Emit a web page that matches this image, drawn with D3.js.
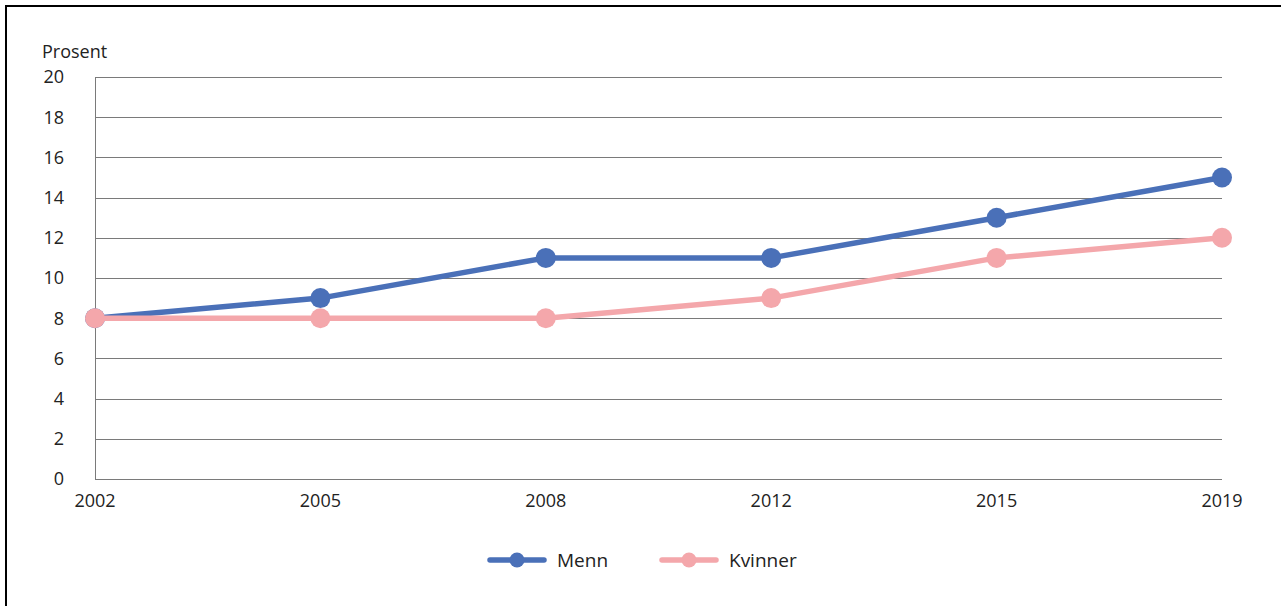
<!DOCTYPE html>
<html>
<head>
<meta charset="utf-8">
<script src="https://cdn.jsdelivr.net/npm/d3@7"></script>
<style>
  body { margin: 0; background: #fff; }
  svg { display: block; font-family: "Open Sans", "Noto Sans", sans-serif; }
</style>
</head>
<body>
<div id="chart"></div>
<script>
// Data
const years = ["2002", "2005", "2008", "2012", "2015", "2019"];
const menn = [8, 9, 11, 11, 13, 15];
const kvinner = [8, 8, 8, 9, 11, 12];
const yTicks = [0, 2, 4, 6, 8, 10, 12, 14, 16, 18, 20];
const seriesNames = ["Menn", "Kvinner"];
const colors = ["#4a70b8", "#f4a7ab"];

const width = 1281, height = 606;
const margin = { left: 95, right: 59, top: 77, bottom: 127 };

const svg = d3.select("#chart").append("svg")
  .attr("width", width)
  .attr("height", height);

// frame (top + left visible)
svg.append("rect")
  .attr("x", 6).attr("y", 6)
  .attr("width", width + 10).attr("height", height + 10)
  .attr("fill", "none")
  .attr("stroke", "#000")
  .attr("stroke-width", 2);

const x = d3.scalePoint()
  .domain(years)
  .range([margin.left, width - margin.right]);

const y = d3.scaleLinear()
  .domain([0, 20])
  .range([height - margin.bottom, margin.top]);

// gridlines
svg.append("g")
  .selectAll("line")
  .data(yTicks)
  .join("line")
  .attr("x1", margin.left)
  .attr("x2", width - margin.right)
  .attr("y1", d => Math.round(y(d)) + 0.5)
  .attr("y2", d => Math.round(y(d)) + 0.5)
  .attr("stroke", "#7a7a7a")
  .attr("stroke-width", 1);

// left axis line
svg.append("line")
  .attr("x1", margin.left + 0.5).attr("x2", margin.left + 0.5)
  .attr("y1", Math.round(y(20)) + 0.5).attr("y2", Math.round(y(0)) + 0.5)
  .attr("stroke", "#7a7a7a");

// y tick labels
svg.append("g")
  .selectAll("text")
  .data(yTicks)
  .join("text")
  .attr("x", 64)
  .attr("y", d => y(d))
  .attr("dy", "0.35em")
  .attr("text-anchor", "end")
  .attr("font-size", 18)
  .attr("fill", "#222")
  .text(d => d);

svg.append("text")
  .attr("x", 42).attr("y", 58)
  .attr("font-size", 18)
  .attr("fill", "#222")
  .text("Prosent");

// x tick labels
svg.append("g")
  .selectAll("text")
  .data(years)
  .join("text")
  .attr("x", d => x(d))
  .attr("y", 507)
  .attr("text-anchor", "middle")
  .attr("font-size", 18)
  .attr("fill", "#222")
  .text(d => d);

// lines
const line = d3.line()
  .x((d, i) => x(years[i]))
  .y(d => y(d));

const series = [menn, kvinner];

[0, 1].forEach(k => {
  const g = svg.append("g");
  g.append("path")
    .datum(series[k])
    .attr("d", line)
    .attr("fill", "none")
    .attr("stroke", colors[k])
    .attr("stroke-width", 5.5)
    .attr("stroke-linejoin", "round");
  g.selectAll("circle")
    .data(series[k])
    .join("circle")
    .attr("cx", (d, i) => x(years[i]))
    .attr("cy", d => y(d))
    .attr("r", 10)
    .attr("fill", colors[k]);
});

// legend
const legendX = [488, 660];
seriesNames.forEach((name, k) => {
  const g = svg.append("g").attr("transform", `translate(${legendX[k]},560)`);
  g.append("line")
    .attr("x1", 2).attr("x2", 56)
    .attr("stroke", colors[k])
    .attr("stroke-width", 5.5)
    .attr("stroke-linecap", "round");
  g.append("circle")
    .attr("cx", 29).attr("r", 7.5)
    .attr("fill", colors[k]);
  g.append("text")
    .attr("x", 69).attr("dy", "0.35em")
    .attr("font-size", 19)
    .attr("fill", "#222")
    .text(name);
});
</script>
</body>
</html>
